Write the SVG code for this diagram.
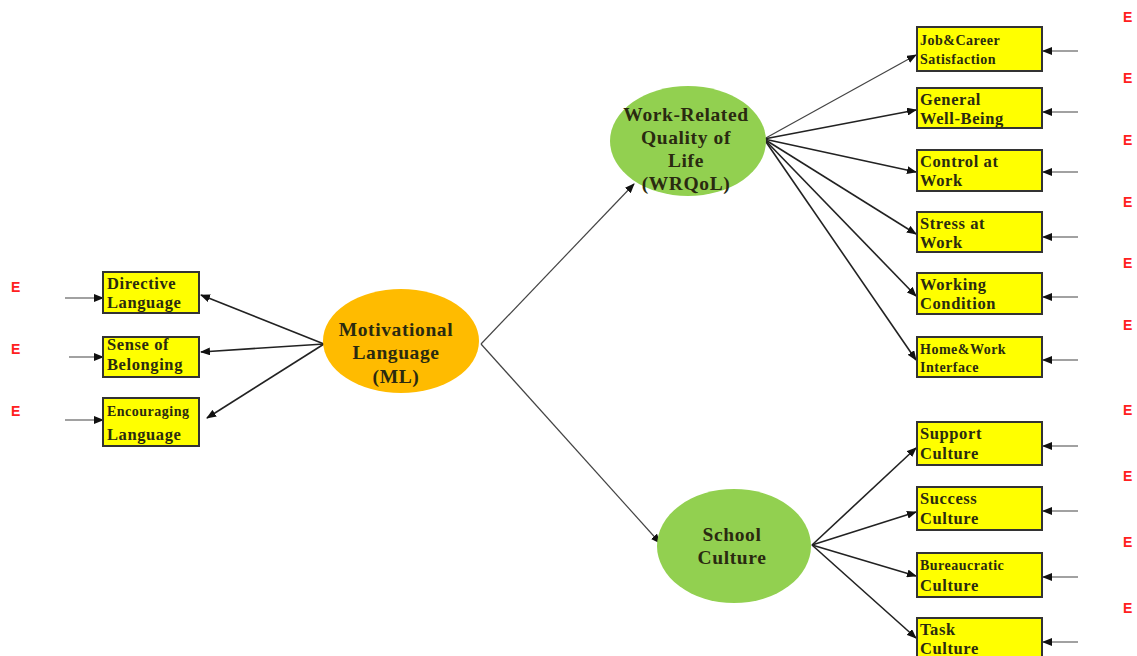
<svg xmlns="http://www.w3.org/2000/svg" width="1137" height="656" viewBox="0 0 1137 656">
<style>
.box{fill:#ffff00;stroke:#333;stroke-width:2}
.t{font-family:"Liberation Serif","DejaVu Serif",serif;font-weight:bold;font-size:16.5px;letter-spacing:0.6px;fill:#2a2a10}
.ts{font-family:"Liberation Serif","DejaVu Serif",serif;font-weight:bold;font-size:14px;letter-spacing:0.5px;fill:#2a2a10}
.tn{font-family:"Liberation Serif","DejaVu Serif",serif;font-weight:bold;font-size:19.5px;letter-spacing:0.6px;fill:#2a2a10;text-anchor:middle}
.e{font-family:"Liberation Sans","DejaVu Sans",sans-serif;font-weight:bold;font-size:14px;fill:#ff2020}
.c{stroke:#222;stroke-width:1.6;fill:none;marker-end:url(#ah)}
.ct{stroke:#444;stroke-width:1.2;fill:none;marker-end:url(#ah)}
</style>
<defs>
<marker id="ah" markerWidth="10" markerHeight="8" refX="9" refY="4" orient="auto" markerUnits="userSpaceOnUse">
<path d="M0,0 L10,4 L0,8 Z" fill="#111"/>
</marker>
</defs>
<rect width="1137" height="656" fill="#fff"/>

<g id="connectors">
<line class="c" x1="324" y1="344" x2="201" y2="295"/>
<line class="c" x1="324" y1="344" x2="201" y2="352"/>
<line class="c" x1="324" y1="344" x2="207" y2="418"/>
<line class="ct" x1="481" y1="344" x2="634" y2="184"/>
<line class="ct" x1="481" y1="344" x2="660" y2="543"/>
<line class="ct" x1="764" y1="139" x2="916" y2="55"/>
<line class="c" x1="764" y1="139" x2="916" y2="110"/>
<line class="c" x1="764" y1="139" x2="916" y2="172"/>
<line class="c" x1="764" y1="139" x2="916" y2="234"/>
<line class="c" x1="764" y1="139" x2="916" y2="296"/>
<line class="c" x1="764" y1="139" x2="916" y2="360"/>
<line class="c" x1="812" y1="545" x2="916" y2="448"/>
<line class="c" x1="812" y1="545" x2="916" y2="512"/>
<line class="c" x1="812" y1="545" x2="916" y2="576"/>
<line class="c" x1="812" y1="545" x2="916" y2="638"/>
<line class="ct" x1="65" y1="298" x2="103" y2="298"/>
<line class="ct" x1="69" y1="357" x2="103" y2="357"/>
<line class="ct" x1="65" y1="420" x2="103" y2="420"/>
<line class="ct" x1="1078" y1="51" x2="1043" y2="51"/>
<line class="ct" x1="1078" y1="112" x2="1043" y2="112"/>
<line class="ct" x1="1078" y1="172" x2="1043" y2="172"/>
<line class="ct" x1="1078" y1="237" x2="1043" y2="237"/>
<line class="ct" x1="1078" y1="297" x2="1043" y2="297"/>
<line class="ct" x1="1078" y1="360" x2="1043" y2="360"/>
<line class="ct" x1="1078" y1="446" x2="1043" y2="446"/>
<line class="ct" x1="1078" y1="511" x2="1043" y2="511"/>
<line class="ct" x1="1078" y1="577" x2="1043" y2="577"/>
<line class="ct" x1="1078" y1="642" x2="1043" y2="642"/>
</g>

<g id="errors">
<text class="e" x="11" y="292">E</text>
<text class="e" x="11" y="354">E</text>
<text class="e" x="11" y="416">E</text>
<text class="e" x="1123" y="22">E</text>
<text class="e" x="1123" y="83">E</text>
<text class="e" x="1123" y="145">E</text>
<text class="e" x="1123" y="207">E</text>
<text class="e" x="1123" y="268">E</text>
<text class="e" x="1123" y="330">E</text>
<text class="e" x="1123" y="415">E</text>
<text class="e" x="1123" y="481">E</text>
<text class="e" x="1123" y="547">E</text>
<text class="e" x="1123" y="613">E</text>
</g>

<g id="ml">
<ellipse cx="401" cy="341" rx="78" ry="52" fill="#ffbb00"/>
<text class="tn" x="396" y="336">Motivational</text>
<text class="tn" x="396" y="359">Language</text>
<text class="tn" x="396" y="383">(ML)</text>
</g>
<g id="wrqol">
<ellipse cx="688" cy="141" rx="78" ry="55" fill="#92d050"/>
<text class="tn" x="686" y="121">Work-Related</text>
<text class="tn" x="686" y="144">Quality of</text>
<text class="tn" x="686" y="167">Life</text>
<text class="tn" x="686" y="190">(WRQoL)</text>
</g>
<g id="school">
<ellipse cx="734" cy="546" rx="77" ry="57" fill="#92d050"/>
<text class="tn" x="732" y="541">School</text>
<text class="tn" x="732" y="564">Culture</text>
</g>

<g id="directive"><rect class="box" x="103" y="272" width="96" height="41"/><text class="t" x="107" y="289">Directive</text><text class="t" x="107" y="308">Language</text></g>
<g id="belonging"><rect class="box" x="103" y="337" width="96" height="40"/><text class="t" x="107" y="350">Sense of</text><text class="t" x="107" y="370">Belonging</text></g>
<g id="encouraging"><rect class="box" x="103" y="398" width="96" height="48"/><text class="ts" x="107" y="416">Encouraging</text><text class="t" x="107" y="440">Language</text></g>

<g id="job"><rect class="box" x="917" y="27" width="125" height="44"/><text class="ts" x="920" y="45">Job&amp;Career</text><text class="ts" x="920" y="64">Satisfaction</text></g>
<g id="wellbeing"><rect class="box" x="917" y="88" width="125" height="40"/><text class="t" x="920" y="105">General</text><text class="t" x="920" y="124">Well-Being</text></g>
<g id="control"><rect class="box" x="917" y="150" width="125" height="41"/><text class="t" x="920" y="167">Control at</text><text class="t" x="920" y="186">Work</text></g>
<g id="stress"><rect class="box" x="917" y="212" width="125" height="40"/><text class="t" x="920" y="229">Stress at</text><text class="t" x="920" y="248">Work</text></g>
<g id="working"><rect class="box" x="917" y="273" width="125" height="41"/><text class="t" x="920" y="290">Working</text><text class="t" x="920" y="309">Condition</text></g>
<g id="homework"><rect class="box" x="917" y="337" width="125" height="40"/><text class="ts" x="920" y="354">Home&amp;Work</text><text class="ts" x="920" y="372">Interface</text></g>
<g id="support"><rect class="box" x="917" y="422" width="125" height="43"/><text class="t" x="920" y="439">Support</text><text class="t" x="920" y="459">Culture</text></g>
<g id="success"><rect class="box" x="917" y="487" width="125" height="43"/><text class="t" x="920" y="504">Success</text><text class="t" x="920" y="524">Culture</text></g>
<g id="bureaucratic"><rect class="box" x="917" y="553" width="125" height="44"/><text class="ts" x="920" y="570">Bureaucratic</text><text class="t" x="920" y="591">Culture</text></g>
<g id="task"><rect class="box" x="917" y="618" width="125" height="45"/><text class="t" x="920" y="635">Task</text><text class="t" x="920" y="654">Culture</text></g>
</svg>
